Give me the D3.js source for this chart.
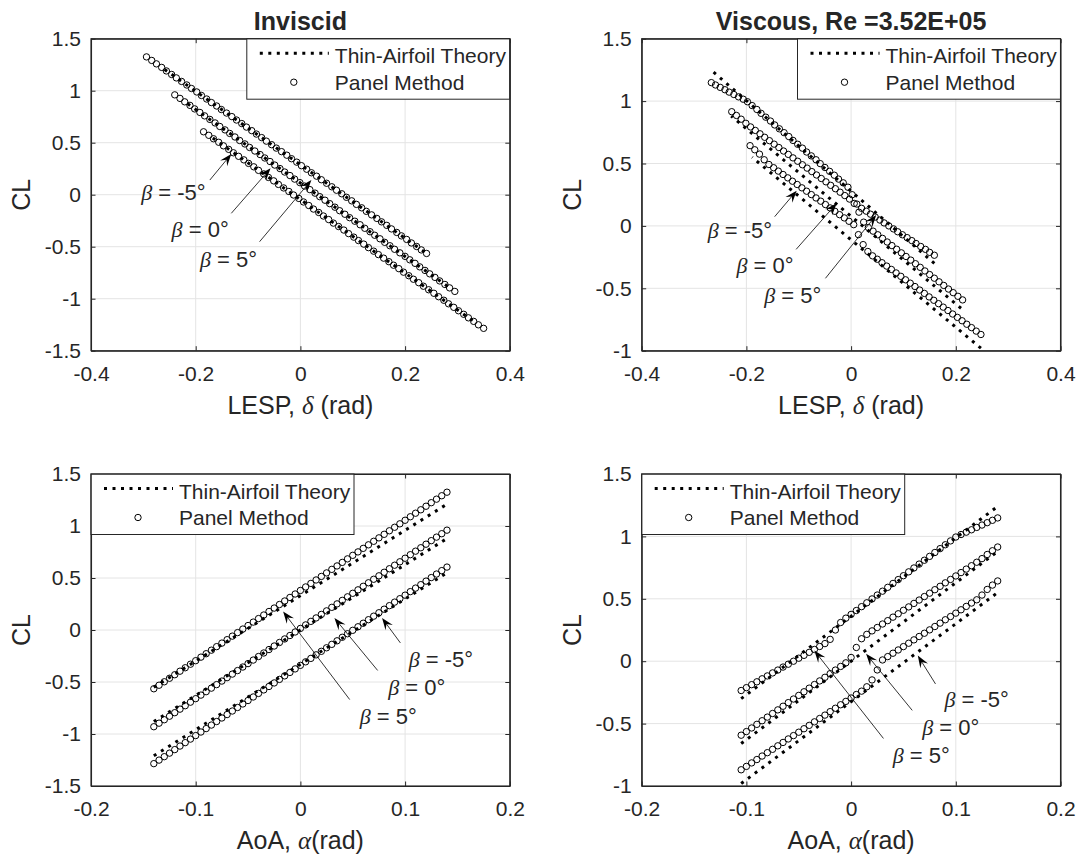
<!DOCTYPE html>
<html>
<head>
<meta charset="utf-8">
<script src="https://cdn.jsdelivr.net/npm/d3@7"></script>
<style>
body { margin: 0; background: #fff; }
text { font-family: "Liberation Sans", Arial, Helvetica, sans-serif; fill: #262626; }
.greek { font-family: "Liberation Serif", "DejaVu Serif", serif; font-style: italic; }
</style>
</head>
<body>
<script>

// ---- data ----
var betaLabels = ["-5°", "0°", "5°"];

// inviscid run, angle of attack (rad)
var aoaInv = [-0.14,-0.135,-0.13,-0.125,-0.12,-0.115,-0.11,-0.105,-0.1,-0.095,-0.09,-0.085,-0.08,-0.075,-0.07,-0.065,-0.06,-0.055,-0.05,-0.045,-0.04,-0.035,-0.03,-0.025,-0.02,-0.015,-0.01,-0.005,0,
  0.005,0.01,0.015,0.02,0.025,0.03,0.035,0.04,0.045,0.05,0.055,0.06,0.065,0.07,0.075,0.08,0.085,0.09,0.095,0.1,0.105,0.11,0.115,0.12,0.125,0.13,0.135,0.14];

var clInvM5 = [-1.285,-1.251,-1.218,-1.184,-1.150,-1.116,-1.083,-1.049,-1.015,-0.981,-0.948,-0.914,-0.880,-0.846,-0.813,-0.779,-0.745,-0.711,-0.678,-0.644,-0.610,-0.576,-0.543,-0.509,-0.475,-0.441,-0.408,-0.374,-0.340,
  -0.306,-0.273,-0.239,-0.205,-0.171,-0.138,-0.104,-0.070,-0.036,-0.003,0.031,0.065,0.099,0.133,0.166,0.200,0.234,0.268,0.301,0.335,0.369,0.403,0.436,0.470,0.504,0.538,0.571,0.605];
var clInv0 = [-0.930,-0.896,-0.863,-0.829,-0.795,-0.761,-0.728,-0.694,-0.660,-0.626,-0.593,-0.559,-0.525,-0.491,-0.458,-0.424,-0.390,-0.356,-0.323,-0.289,-0.255,-0.221,-0.188,-0.154,-0.120,-0.086,-0.053,-0.019,0.015,
  0.049,0.083,0.116,0.150,0.184,0.218,0.251,0.285,0.319,0.353,0.386,0.420,0.454,0.488,0.521,0.555,0.589,0.623,0.656,0.690,0.724,0.758,0.791,0.825,0.859,0.893,0.926,0.960];
var clInvP5 = [-0.565,-0.531,-0.498,-0.464,-0.430,-0.396,-0.363,-0.329,-0.295,-0.261,-0.228,-0.194,-0.160,-0.126,-0.093,-0.059,-0.025,0.009,0.043,0.076,0.110,0.144,0.178,0.211,0.245,0.279,0.313,0.346,0.380,
  0.414,0.448,0.481,0.515,0.549,0.583,0.616,0.650,0.684,0.718,0.751,0.785,0.819,0.853,0.886,0.920,0.954,0.988,1.021,1.055,1.089,1.123,1.156,1.190,1.224,1.258,1.291,1.325];

var lespInvM5 = [0.350,0.340,0.331,0.321,0.312,0.302,0.293,0.283,0.274,0.264,0.255,0.245,0.235,0.226,0.216,0.207,0.197,0.188,0.178,0.169,0.159,0.149,0.140,0.130,0.121,0.111,0.102,0.092,0.083,
  0.073,0.063,0.054,0.044,0.035,0.025,0.016,0.006,-0.003,-0.013,-0.022,-0.032,-0.042,-0.051,-0.061,-0.070,-0.080,-0.089,-0.099,-0.108,-0.118,-0.128,-0.137,-0.147,-0.156,-0.166,-0.175,-0.185];
var lespInv0 = [0.295,0.285,0.276,0.266,0.257,0.247,0.238,0.228,0.219,0.209,0.200,0.190,0.180,0.171,0.161,0.152,0.142,0.133,0.123,0.114,0.104,0.094,0.085,0.075,0.066,0.056,0.047,0.037,0.028,
  0.018,0.008,-0.001,-0.011,-0.020,-0.030,-0.039,-0.049,-0.058,-0.068,-0.077,-0.087,-0.097,-0.106,-0.116,-0.125,-0.135,-0.144,-0.154,-0.163,-0.173,-0.183,-0.192,-0.202,-0.211,-0.221,-0.230,-0.240];
var lespInvP5 = [0.241,0.231,0.222,0.212,0.203,0.193,0.184,0.174,0.165,0.155,0.146,0.136,0.126,0.117,0.107,0.098,0.088,0.079,0.069,0.060,0.050,0.040,0.031,0.021,0.012,0.002,-0.007,-0.017,-0.026,
  -0.036,-0.046,-0.055,-0.065,-0.074,-0.084,-0.093,-0.103,-0.112,-0.122,-0.131,-0.141,-0.151,-0.160,-0.170,-0.179,-0.189,-0.198,-0.208,-0.217,-0.227,-0.237,-0.246,-0.256,-0.265,-0.275,-0.284,-0.294];

// thin-airfoil theory end points, inviscid
var aoaThInv = [-0.14, 0.14];
var clThInvM5 = [-1.21, 0.55], clThInv0 = [-0.88, 0.88], clThInvP5 = [-0.55, 1.21];
var lespThInvM5 = [0.329, -0.169], lespThInv0 = [0.281, -0.217], lespThInvP5 = [0.237, -0.261];

// viscous run, Re = 3.52E+05
var aoaVis = [-0.105,-0.1,-0.095,-0.09,-0.085,-0.08,-0.075,-0.07,-0.065,-0.06,-0.055,-0.05,-0.045,-0.04,-0.035,-0.03,-0.025,-0.02,-0.015,-0.01,-0.005,0,
  0.005,0.01,0.015,0.02,0.025,0.03,0.035,0.04,0.045,0.05,0.055,0.06,0.065,0.07,0.075,0.08,0.085,0.09,0.095,0.1,0.105,0.11,0.115,0.12,0.125,0.13,0.135,0.14];

var clVisM5 = [-0.870,-0.843,-0.815,-0.788,-0.760,-0.733,-0.706,-0.678,-0.651,-0.623,-0.596,-0.569,-0.541,-0.514,-0.486,-0.459,-0.432,-0.404,-0.377,-0.349,-0.322,-0.295,
  -0.267,-0.240,-0.205,-0.150,-0.070,0.010,0.037,0.064,0.090,0.117,0.144,0.171,0.198,0.224,0.251,0.278,0.305,0.332,0.358,0.385,0.412,0.439,0.466,0.492,0.530,0.575,0.610,0.643];
var clVis0 = [-0.593,-0.564,-0.535,-0.506,-0.477,-0.448,-0.419,-0.390,-0.361,-0.332,-0.303,-0.274,-0.245,-0.216,-0.187,-0.158,-0.129,-0.100,-0.071,-0.042,-0.013,0.030,
  0.110,0.180,0.215,0.243,0.270,0.298,0.325,0.353,0.380,0.408,0.435,0.463,0.490,0.518,0.545,0.573,0.600,0.628,0.655,0.683,0.710,0.738,0.765,0.793,0.822,0.855,0.885,0.915];
var clVisP5 = [-0.235,-0.212,-0.188,-0.165,-0.141,-0.118,-0.094,-0.071,-0.047,-0.024,0.000,0.024,0.047,0.071,0.094,0.118,0.141,0.175,0.250,0.310,0.345,0.375,
  0.406,0.437,0.468,0.499,0.530,0.561,0.592,0.623,0.654,0.685,0.716,0.747,0.778,0.809,0.840,0.871,0.902,0.933,0.964,0.995,1.015,1.034,1.053,1.072,1.091,1.110,1.129,1.148];

var lespVisM5 = [0.248,0.239,0.230,0.221,0.212,0.203,0.194,0.185,0.176,0.167,0.158,0.149,0.140,0.131,0.122,0.113,0.104,0.095,0.086,0.077,0.068,0.059,
  0.050,0.041,0.032,0.023,0.014,0.005,-0.004,-0.013,-0.022,-0.031,-0.040,-0.049,-0.058,-0.067,-0.076,-0.085,-0.094,-0.103,-0.112,-0.121,-0.130,-0.139,-0.148,-0.157,-0.166,-0.175,-0.184,-0.193];
var lespVis0 = [0.213,0.204,0.195,0.186,0.177,0.168,0.159,0.150,0.141,0.132,0.123,0.114,0.105,0.096,0.087,0.078,0.069,0.060,0.051,0.042,0.033,0.024,
  0.015,0.006,-0.003,-0.012,-0.021,-0.030,-0.039,-0.048,-0.057,-0.066,-0.075,-0.084,-0.093,-0.102,-0.111,-0.120,-0.129,-0.138,-0.147,-0.156,-0.165,-0.174,-0.183,-0.192,-0.201,-0.210,-0.219,-0.228];
var lespVisP5 = [0.159,0.150,0.142,0.133,0.124,0.116,0.107,0.098,0.089,0.081,0.072,0.063,0.055,0.046,0.037,0.029,0.020,0.011,0.002,-0.006,-0.015,-0.024,
  -0.032,-0.041,-0.050,-0.059,-0.067,-0.076,-0.085,-0.093,-0.102,-0.111,-0.119,-0.128,-0.137,-0.146,-0.154,-0.163,-0.172,-0.180,-0.189,-0.198,-0.206,-0.215,-0.224,-0.233,-0.241,-0.250,-0.259,-0.267];

var aoaThVis = [-0.105, 0.14];
var clThVisM5 = [-0.98, 0.55], clThVis0 = [-0.66, 0.88], clThVisP5 = [-0.30, 1.24];
var lespThVisM5 = [0.248, -0.189], lespThVis0 = [0.210, -0.229], lespThVisP5 = [0.159, -0.265];

// tick values and labels
var lespTicks = [-0.4, -0.2, 0, 0.2, 0.4], lespTickLabels = ["-0.4", "-0.2", "0", "0.2", "0.4"];
var aoaTicks = [-0.2, -0.1, 0, 0.1, 0.2], aoaTickLabels = ["-0.2", "-0.1", "0", "0.1", "0.2"];
var clTicksInv = [-1.5, -1, -0.5, 0, 0.5, 1, 1.5], clTickLabelsInv = ["-1.5", "-1", "-0.5", "0", "0.5", "1", "1.5"];
var clTicksVis = [-1, -0.5, 0, 0.5, 1, 1.5], clTickLabelsVis = ["-1", "-0.5", "0", "0.5", "1", "1.5"];

// annotation arrows, data units: [text x, text y, tail x, tail y, head x, head y] for beta -5, 0, 5
var annInvLesp = [[-0.304, -0.051, -0.173, 0.141, -0.132, 0.391], [-0.246, -0.404, -0.132, -0.179, -0.057, 0.254], [-0.192, -0.692, -0.078, -0.452, 0.021, 0.141]];
var annVisLesp = [[-0.274, -0.099, -0.146, 0.074, -0.104, 0.282], [-0.219, -0.380, -0.105, -0.188, -0.0275, 0.181], [-0.166, -0.620, -0.049, -0.420, 0.048, 0.087]];
var annInvAoa = [[0.1035, -0.357, 0.0955, -0.124, 0.078, 0.115], [0.0838, -0.628, 0.0738, -0.389, 0.0325, 0.115], [0.0566, -0.900, 0.0471, -0.669, -0.0165, 0.178]];
var annVisAoa = [[0.0892, -0.367, 0.0806, -0.182, 0.0637, 0.045], [0.0679, -0.594, 0.0584, -0.394, 0.0143, 0.059], [0.0398, -0.818, 0.0309, -0.619, -0.0351, 0.085]];

// ---- layout ----
var width = 1081, height = 861;
var pw = 418.8, ph = 312;

var svg = d3.select("body").append("svg")
    .attr("width", width)
    .attr("height", height);

var panels = [
  { left: 91, top: 38.7, title: "Inviscid", xKind: "lesp", xDom: [-0.4, 0.4], yDom: [-1.5, 1.5],
    xTicks: lespTicks, xLabels: lespTickLabels, yTicks: clTicksInv, yLabels: clTickLabelsInv, legend: "right",
    panel: [[lespInvM5, clInvM5], [lespInv0, clInv0], [lespInvP5, clInvP5]],
    theory: [[lespThInvM5, clThInvM5], [lespThInv0, clThInv0], [lespThInvP5, clThInvP5]], ann: annInvLesp },
  { left: 641.7, top: 38.7, title: "Viscous, Re =3.52E+05", xKind: "lesp", xDom: [-0.4, 0.4], yDom: [-1, 1.5],
    xTicks: lespTicks, xLabels: lespTickLabels, yTicks: clTicksVis, yLabels: clTickLabelsVis, legend: "right",
    panel: [[lespVisM5, clVisM5], [lespVis0, clVis0], [lespVisP5, clVisP5]],
    theory: [[lespThVisM5, clThVisM5], [lespThVis0, clThVis0], [lespThVisP5, clThVisP5]], ann: annVisLesp },
  { left: 91, top: 474, title: null, xKind: "aoa", xDom: [-0.2, 0.2], yDom: [-1.5, 1.5],
    xTicks: aoaTicks, xLabels: aoaTickLabels, yTicks: clTicksInv, yLabels: clTickLabelsInv, legend: "left",
    panel: [[aoaInv, clInvM5], [aoaInv, clInv0], [aoaInv, clInvP5]],
    theory: [[aoaThInv, clThInvM5], [aoaThInv, clThInv0], [aoaThInv, clThInvP5]], ann: annInvAoa },
  { left: 641.7, top: 474, title: null, xKind: "aoa", xDom: [-0.2, 0.2], yDom: [-1, 1.5],
    xTicks: aoaTicks, xLabels: aoaTickLabels, yTicks: clTicksVis, yLabels: clTickLabelsVis, legend: "left",
    panel: [[aoaVis, clVisM5], [aoaVis, clVis0], [aoaVis, clVisP5]],
    theory: [[aoaThVis, clThVisM5], [aoaThVis, clThVis0], [aoaThVis, clThVisP5]], ann: annVisAoa }
];

var axisColor = "#262626", gridColor = "#e4e4e4";
var dotDash = "3,5.5", dotWidth = 3;

function zip(xs, ys) {
  return xs.map(function(d, i) { return [d, ys[i]]; });
}

function drawPanel(p) {
  var g = svg.append("g").attr("transform", "translate(" + p.left + "," + p.top + ")");
  var x = d3.scaleLinear().domain(p.xDom).range([0, pw]);
  var y = d3.scaleLinear().domain(p.yDom).range([ph, 0]);

  // grid
  g.append("g").selectAll("line").data(p.xTicks).join("line")
    .attr("x1", d => x(d)).attr("x2", d => x(d)).attr("y1", 0).attr("y2", ph)
    .attr("stroke", gridColor).attr("stroke-width", 1);
  g.append("g").selectAll("line").data(p.yTicks).join("line")
    .attr("y1", d => y(d)).attr("y2", d => y(d)).attr("x1", 0).attr("x2", pw)
    .attr("stroke", gridColor).attr("stroke-width", 1);

  // axes (ticks inside, box on)
  g.append("g").attr("transform", "translate(0," + ph + ")")
    .call(d3.axisBottom(x).tickValues(p.xTicks).tickFormat((d, i) => p.xLabels[i])
      .tickSizeInner(-4.5).tickSizeOuter(0).tickPadding(15));
  g.append("g")
    .call(d3.axisLeft(y).tickValues(p.yTicks).tickFormat((d, i) => p.yLabels[i])
      .tickSizeInner(-4.5).tickSizeOuter(0).tickPadding(10));
  g.append("g").call(d3.axisTop(x).tickValues(p.xTicks).tickFormat("").tickSizeInner(-4.5).tickSizeOuter(0));
  g.append("g").attr("transform", "translate(" + pw + ",0)")
    .call(d3.axisRight(y).tickValues(p.yTicks).tickFormat("").tickSizeInner(-4.5).tickSizeOuter(0));
  g.selectAll(".domain, .tick line").attr("stroke", axisColor);
  g.selectAll(".domain").attr("stroke-width", 1.1);
  g.selectAll(".tick text").attr("font-size", 21).attr("fill", axisColor)
    .style("font-family", "'Liberation Sans', Arial, sans-serif");

  // theory (dotted) lines
  var line = d3.line().x(d => x(d[0])).y(d => y(d[1]));
  g.append("g").selectAll("path").data(p.theory).join("path")
    .attr("d", d => line(zip(d[0], d[1])))
    .attr("fill", "none").attr("stroke", "#000")
    .attr("stroke-width", dotWidth).attr("stroke-dasharray", dotDash);

  // panel method markers
  p.panel.forEach(function(s) {
    g.append("g").selectAll("circle").data(zip(s[0], s[1])).join("circle")
      .attr("cx", d => x(d[0])).attr("cy", d => y(d[1])).attr("r", 3.2)
      .attr("fill", "none").attr("stroke", "#000").attr("stroke-width", 1);
  });

  // annotations
  p.ann.forEach(function(a, i) {
    var tx = x(a[2]), ty = y(a[3]), hx = x(a[4]), hy = y(a[5]);
    var ang = Math.atan2(hy - ty, hx - tx);
    var L = 12, W = 4.5;
    var c = Math.cos(ang), s = Math.sin(ang);
    g.append("line").attr("x1", tx).attr("y1", ty)
      .attr("x2", hx - L * 0.6 * c).attr("y2", hy - L * 0.6 * s)
      .attr("stroke", "#000").attr("stroke-width", 0.8);
    var pts = [[0, 0], [-L, W], [-L * 0.62, 0], [-L, -W]].map(function(q) {
      return [hx + q[0] * c - q[1] * s, hy + q[0] * s + q[1] * c];
    });
    g.append("path").attr("d", "M" + pts.join("L") + "Z").attr("fill", "#000");
    var t = g.append("text").attr("x", x(a[0])).attr("y", y(a[1])).attr("font-size", 22).attr("fill", "#000");
    t.append("tspan").attr("class", "greek").text("β");
    t.append("tspan").text(" = " + betaLabels[i]);
  });

  // legend
  var lw = 263, lh = 60.5;
  var lx = p.legend === "right" ? pw - lw : 0;
  var lg = g.append("g").attr("transform", "translate(" + lx + ",0)");
  lg.append("rect").attr("width", lw).attr("height", lh)
    .attr("fill", "#fff").attr("stroke", axisColor).attr("stroke-width", 1);
  lg.append("line").attr("x1", 13).attr("x2", 82).attr("y1", 14.5).attr("y2", 14.5)
    .attr("stroke", "#000").attr("stroke-width", dotWidth).attr("stroke-dasharray", dotDash);
  lg.append("circle").attr("cx", 47).attr("cy", 43.5).attr("r", 3.2)
    .attr("fill", "none").attr("stroke", "#000");
  lg.append("text").attr("x", 88).attr("y", 24.5).attr("font-size", 21).attr("fill", "#000").text("Thin-Airfoil Theory");
  lg.append("text").attr("x", 88).attr("y", 51).attr("font-size", 21).attr("fill", "#000").text("Panel Method");

  // frame
  g.append("rect").attr("width", pw).attr("height", ph).attr("fill", "none")
    .attr("stroke", axisColor).attr("stroke-width", 1.1);

  // titles and axis labels
  if (p.title) {
    g.append("text").attr("x", pw / 2).attr("y", -9).attr("text-anchor", "middle")
      .attr("font-size", 25).attr("font-weight", "bold").attr("fill", "#000").text(p.title);
  }
  var xl = g.append("text").attr("x", pw / 2).attr("y", ph + 63).attr("text-anchor", "middle")
    .attr("font-size", 25).attr("fill", axisColor);
  if (p.xKind === "lesp") {
    xl.append("tspan").text("LESP, ");
    xl.append("tspan").attr("class", "greek").text("δ");
    xl.append("tspan").text(" (rad)");
  } else {
    xl.append("tspan").text("AoA, ");
    xl.append("tspan").attr("class", "greek").text("α");
    xl.append("tspan").text("(rad)");
  }
  g.append("text").attr("transform", "translate(-61," + (ph / 2) + ") rotate(-90)")
    .attr("text-anchor", "middle").attr("font-size", 25).attr("fill", axisColor).text("CL");
}

panels.forEach(drawPanel);

</script>
</body>
</html>
